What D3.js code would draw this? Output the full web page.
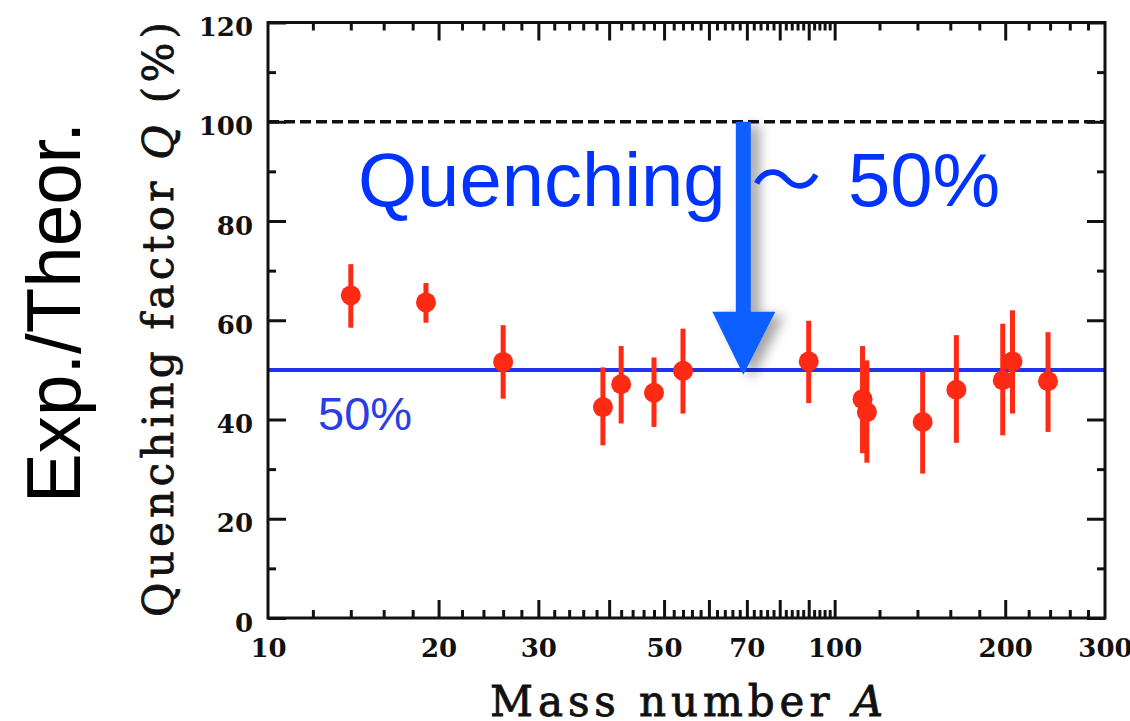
<!DOCTYPE html>
<html>
<head>
<meta charset="utf-8">
<script src="https://cdn.jsdelivr.net/npm/d3@7"></script>
<style>
  body { margin: 0; background: #fff; }
  svg { display: block; }
</style>
</head>
<body>
<div id="chart"></div>
<script>
var massA  = [14, 19, 26, 39, 42, 48, 54, 90, 112, 114, 143, 164, 198, 206, 238];
var qValue = [65.0, 63.6, 51.6, 42.5, 47.1, 45.4, 49.8, 51.7, 44.1, 41.5, 39.5, 46.0, 47.9, 51.7, 47.7];
var qUpper = [71.3, 67.5, 59.0, 50.5, 54.8, 52.5, 58.3, 59.9, 54.8, 51.9, 49.6, 57.0, 59.3, 62.0, 57.6];
var qLower = [58.5, 59.5, 44.2, 34.8, 39.2, 38.5, 41.2, 43.3, 33.2, 31.3, 29.1, 35.3, 36.8, 41.2, 37.5];

var xTickLabels = [10, 20, 30, 50, 70, 100, 200, 300];
var xMajorTicks = [20, 30, 40, 50, 60, 70, 80, 90, 100, 200];
var xMinorTicks = d3.range(12, 100, 2).filter(function (v) { return v % 10; })
  .concat([120, 140, 160, 180, 220, 240, 260, 280]);
var yMajorTicks = [0, 20, 40, 60, 80, 100, 120];
var yMinorTicks = [10, 30, 50, 70, 90, 110];

var referenceQ = 100;   // theory
var quenchedQ = 50;     // ~50%
var arrowA = 69;

var width = 1130, height = 721;
var plotLeft = 268, plotRight = 1105, plotTop = 22.5, plotBottom = 618;

var svg = d3.select('#chart').append('svg')
  .attr('width', width)
  .attr('height', height);

var defs = svg.append('defs');
var shadow = defs.append('filter')
  .attr('id', 'shadow')
  .attr('x', '-100%').attr('y', '-20%')
  .attr('width', '300%').attr('height', '150%');
shadow.append('feDropShadow')
  .attr('dx', 9).attr('dy', 4)
  .attr('stdDeviation', 6)
  .attr('flood-color', '#000')
  .attr('flood-opacity', 0.35);

var x = d3.scaleLog().domain([10, 300]).range([plotLeft, plotRight]);
var y = d3.scaleLinear().domain([0, 120]).range([plotBottom, plotTop]);

// ticks, all pointing inward
function tickAxis(axis, pos, values, size) {
  var g = svg.append('g')
    .attr('transform', pos)
    .call(axis.tickValues(values).tickSize(-size).tickFormat(''));
  g.select('.domain').remove();
  g.selectAll('line').attr('stroke', '#111').attr('stroke-width', 3);
  return g;
}
tickAxis(d3.axisBottom(x), 'translate(0,' + plotBottom + ')', xMajorTicks, 18);
tickAxis(d3.axisBottom(x), 'translate(0,' + plotBottom + ')', xMinorTicks, 8);
tickAxis(d3.axisTop(x), 'translate(0,' + plotTop + ')', xMajorTicks, 18);
tickAxis(d3.axisTop(x), 'translate(0,' + plotTop + ')', xMinorTicks, 8);
tickAxis(d3.axisLeft(y), 'translate(' + plotLeft + ',0)', yMajorTicks, 18);
tickAxis(d3.axisLeft(y), 'translate(' + plotLeft + ',0)', yMinorTicks, 8);
tickAxis(d3.axisRight(y), 'translate(' + plotRight + ',0)', yMajorTicks, 18);
tickAxis(d3.axisRight(y), 'translate(' + plotRight + ',0)', yMinorTicks, 8);

// tick labels
var xLab = svg.append('g')
  .attr('transform', 'translate(0,' + plotBottom + ')')
  .call(d3.axisBottom(x).tickValues(xTickLabels).tickSize(0).tickPadding(21).tickFormat(d3.format('d')));
xLab.select('.domain').remove();
xLab.selectAll('text')
  .style('font-family', '"DejaVu Serif", serif')
  .style('font-weight', 'bold')
  .style('font-size', '26px')
  .attr('fill', '#111');

var yLab = svg.append('g')
  .attr('transform', 'translate(' + plotLeft + ',0)')
  .call(d3.axisLeft(y).tickValues(yMajorTicks).tickSize(0).tickPadding(15));
yLab.select('.domain').remove();
yLab.selectAll('text')
  .attr('dy', '0.5em')
  .style('font-family', '"DejaVu Serif", serif')
  .style('font-weight', 'bold')
  .style('font-size', '26px')
  .attr('fill', '#111');

// dashed 100% line
svg.append('line')
  .attr('x1', plotLeft).attr('x2', plotRight)
  .attr('y1', y(referenceQ)).attr('y2', y(referenceQ))
  .attr('stroke', '#111')
  .attr('stroke-width', 3.5)
  .attr('stroke-dasharray', '11,5');

// 50% line
svg.append('line')
  .attr('x1', plotLeft).attr('x2', plotRight)
  .attr('y1', y(quenchedQ)).attr('y2', y(quenchedQ))
  .attr('stroke', '#2233ee')
  .attr('stroke-width', 4);

svg.append('text')
  .attr('x', plotLeft + 50)
  .attr('y', y(quenchedQ) + 60)
  .style('font-family', '"Liberation Sans", Arial, sans-serif')
  .style('font-size', '47px')
  .attr('fill', '#2b3de6')
  .text('50%');

// data points with error bars
var pts = svg.append('g');
massA.forEach(function (a, i) {
  pts.append('line')
    .attr('x1', x(a)).attr('x2', x(a))
    .attr('y1', y(qUpper[i])).attr('y2', y(qLower[i]))
    .attr('stroke', '#ff2a14')
    .attr('stroke-width', 5);
  pts.append('circle')
    .attr('cx', x(a))
    .attr('cy', y(qValue[i]))
    .attr('r', 10)
    .attr('fill', '#ff2a14');
});

// frame
svg.append('rect')
  .attr('x', plotLeft).attr('y', plotTop)
  .attr('width', plotRight - plotLeft).attr('height', plotBottom - plotTop)
  .attr('fill', 'none')
  .attr('stroke', '#111')
  .attr('stroke-width', 3);

// arrow 100% -> 50%
var ax = x(arrowA);
var tipY = y(49);
var baseY = tipY - 63;
var arrow = svg.append('g').attr('filter', 'url(#shadow)');
arrow.append('rect')
  .attr('x', ax - 7.5).attr('y', y(referenceQ))
  .attr('width', 15).attr('height', baseY - y(referenceQ) + 2)
  .attr('fill', '#0a5eff');
arrow.append('path')
  .attr('d', 'M' + (ax - 31) + ',' + baseY + 'L' + (ax + 32) + ',' + baseY + 'L' + ax + ',' + tipY + 'Z')
  .attr('fill', '#0a5eff');

// headline
svg.append('text')
  .attr('x', 358).attr('y', 206)
  .style('font-family', '"Liberation Sans", Arial, sans-serif')
  .style('font-size', '76px')
  .attr('fill', '#0033ff')
  .text('Quenching');
svg.append('text')
  .attr('x', ax + 8).attr('y', 206)
  .style('font-family', '"Noto Sans CJK JP", sans-serif')
  .style('font-size', '70px')
  .attr('fill', '#0033ff')
  .text('〜');
svg.append('text')
  .attr('x', 848).attr('y', 206)
  .style('font-family', '"Liberation Sans", Arial, sans-serif')
  .style('font-size', '76px')
  .attr('fill', '#0033ff')
  .text('50%');

// axis titles
svg.append('text')
  .attr('transform', 'translate(173,617) rotate(-90)')
  .attr('textLength', 595)
  .attr('lengthAdjust', 'spacing')
  .style('font-family', '"DejaVu Serif", serif')
  .style('font-size', '42px')
  .attr('fill', '#111')
  .attr('stroke', '#111')
  .attr('stroke-width', 0.8)
  .html('Quenching factor <tspan font-style="italic">Q</tspan> (%)');

svg.append('text')
  .attr('x', 490).attr('y', 716)
  .attr('textLength', 393)
  .attr('lengthAdjust', 'spacing')
  .style('font-family', '"DejaVu Serif", serif')
  .style('font-size', '42px')
  .attr('fill', '#111')
  .attr('stroke', '#111')
  .attr('stroke-width', 0.8)
  .html('Mass number <tspan font-style="italic">A</tspan>');

svg.append('text')
  .attr('transform', 'translate(80,503) rotate(-90)')
  .attr('textLength', 381)
  .attr('lengthAdjust', 'spacingAndGlyphs')
  .style('font-family', '"Liberation Sans", Arial, sans-serif')
  .style('font-size', '76px')
  .attr('fill', '#000')
  .text('Exp./Theor.');
</script>
</body>
</html>
